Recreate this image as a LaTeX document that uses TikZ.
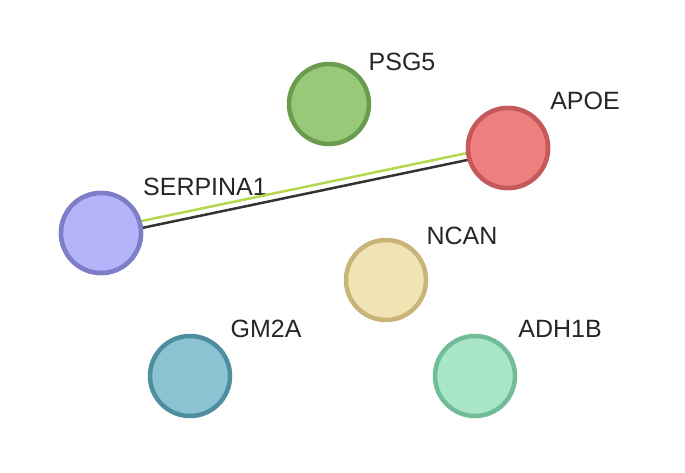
\documentclass[tikz,border=0pt]{standalone}
\usepackage{fontspec}
\setmainfont{Liberation Sans}
\usepackage{tikz}

\definecolor{psgfill}{HTML}{96C978}
\definecolor{psgline}{HTML}{6A9B4E}
\definecolor{apofill}{HTML}{F08080}
\definecolor{apoline}{HTML}{C65A5A}
\definecolor{serfill}{HTML}{B4B4FA}
\definecolor{serline}{HTML}{7D7DC8}
\definecolor{ncanfill}{HTML}{F0E4B4}
\definecolor{ncanline}{HTML}{C8B478}
\definecolor{gmfill}{HTML}{8CC3D2}
\definecolor{gmline}{HTML}{4E8E9E}
\definecolor{adhfill}{HTML}{A8E6C6}
\definecolor{adhline}{HTML}{72BC98}
\definecolor{textedge}{HTML}{B4D74E}

\tikzset{
  protein/.style={circle,minimum size=80pt,line width=4.5pt,inner sep=0pt},
  plabel/.style={font=\fontsize{25}{30}\selectfont,text=black!85,inner sep=1pt}
}

\begin{document}
\begin{tikzpicture}[x=1pt,y=-1pt]
\useasboundingbox (0,0) rectangle (685,472);
%\draw[color=black!20,step=50] (0,0) grid (685,472);
\node[protein,fill=psgfill,draw=psgline] (psg5) at (329,104) {};
\node[protein,fill=apofill,draw=apoline] (apoe) at (508,148) {};
\node[protein,fill=serfill,draw=serline] (serpina1) at (101,233) {};
\node[protein,fill=ncanfill,draw=ncanline] (ncan) at (386,280) {};
\node[protein,fill=gmfill,draw=gmline] (gm2a) at (190,376) {};
\node[protein,fill=adhfill,draw=adhline] (adh1b) at (475,376) {};
\node[plabel] (lpsg5) at (402,62) {PSG5};
\node[plabel] (lapoe) at (585,101) {APOE};
\node[plabel] (lserpina1) at (205,187) {SERPINA1};
\node[plabel] (lncan) at (462,236) {NCAN};
\node[plabel] (lgm2a) at (266,329) {GM2A};
\node[plabel] (ladh1b) at (560,329) {ADH1B};
% edges drawn over, then end nodes redrawn on top
\draw[line width=2.5pt,color=textedge] ([yshift=3.5pt]serpina1.center) -- ([yshift=3.5pt]apoe.center);
\draw[line width=2.5pt,color=black!80] ([yshift=-3.5pt]serpina1.center) -- ([yshift=-3.5pt]apoe.center);
\node[protein,fill=apofill,draw=apoline] at (apoe) {};
\node[protein,fill=serfill,draw=serline] at (serpina1) {};
\end{tikzpicture}
\end{document}
